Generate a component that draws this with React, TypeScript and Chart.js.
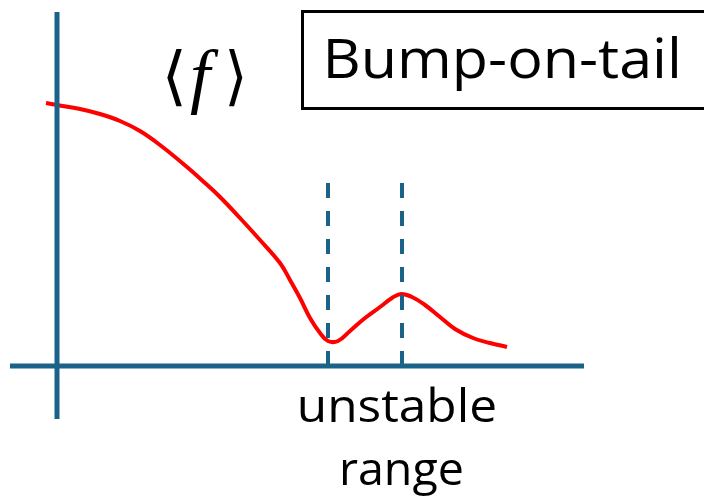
import React, { useEffect, useRef } from "react";
import { Chart, registerables } from "chart.js";

Chart.register(...registerables);

// Distribution curve <f>(v): velocity and value samples
const velocity = [-0.22, 0, 0.46, 0.86, 1.26, 1.66, 2.06, 2.6, 2.96, 3.26, 3.66, 4.06, 4.46, 4.66, 4.86, 5.06, 5.26, 5.42, 5.62, 5.86, 6.16, 6.46, 6.7, 6.88, 7.1, 7.36, 7.66, 7.96, 8.32, 8.66, 9.0];
const fValue = [5.26, 5.22, 5.14, 5.04, 4.9, 4.7, 4.42, 3.98, 3.66, 3.38, 2.96, 2.52, 2.06, 1.72, 1.36, 0.96, 0.66, 0.5, 0.5, 0.7, 0.96, 1.18, 1.36, 1.44, 1.38, 1.22, 0.98, 0.74, 0.56, 0.46, 0.38];

// Axes extents
const vAxisRange = [-0.94, 10.54];
const fAxisRange = [-1.06, 7.08];

// Unstable range boundaries (minimum and bump peak)
const unstableBounds = [5.42, 6.9];
const markerHeight = 3.66;

// Texts
const fLabel = ["⟨", "f", "⟩"];
const titleText = "Bump-on-tail";
const rangeLabel = ["unstable", "range"];

const AXIS = "#1b6289";

function drawBox(ctx: CanvasRenderingContext2D, text: string, font: string, l: number, t: number, r: number, b: number, uniform = false) {
  ctx.font = font;
  const m = ctx.measureText(text);
  const w = m.actualBoundingBoxLeft + m.actualBoundingBoxRight;
  const h = m.actualBoundingBoxAscent + m.actualBoundingBoxDescent;
  const sy = (b - t) / h;
  const sx = uniform ? sy : (r - l) / w;
  const x0 = uniform ? (l + r) / 2 - (w * sx) / 2 : l;
  ctx.save();
  ctx.translate(x0, t);
  ctx.scale(sx, sy);
  ctx.fillText(text, m.actualBoundingBoxLeft, m.actualBoundingBoxAscent);
  ctx.restore();
}

function drawFit(ctx: CanvasRenderingContext2D, text: string, font: string, l: number, r: number, baseline: number) {
  ctx.font = font;
  const m = ctx.measureText(text);
  const w = m.actualBoundingBoxLeft + m.actualBoundingBoxRight;
  const sx = (r - l) / w;
  ctx.save();
  ctx.translate(l, baseline);
  ctx.scale(sx, 1);
  ctx.fillText(text, m.actualBoundingBoxLeft, 0);
  ctx.restore();
}

const textPlugin = {
  id: "texts",
  afterDraw(chart: any) {
    const ctx = chart.ctx as CanvasRenderingContext2D;
    ctx.save();
    ctx.fillStyle = "#000";
    ctx.textBaseline = "alphabetic";
    ctx.textAlign = "left";
    // <f>
    drawBox(ctx, fLabel[0], "48px 'DejaVu Serif'", 167, 48, 182, 107);
    drawBox(ctx, fLabel[1], "italic 80px 'Liberation Serif'", 187, 48, 222, 115, true);
    drawBox(ctx, fLabel[2], "48px 'DejaVu Serif'", 228, 48, 243, 107);
    // box
    ctx.lineWidth = 3;
    ctx.strokeStyle = "#000";
    ctx.strokeRect(302.5, 11.5, 420, 97);
    drawFit(ctx, titleText, "54px 'Open Sans'", 328, 678, 78);
    // unstable range
    drawFit(ctx, rangeLabel[0], "46px 'Open Sans'", 300, 495, 422);
    drawFit(ctx, rangeLabel[1], "46px 'Open Sans'", 342, 462, 485);
    ctx.restore();
  },
};

export default function App() {
  const ref = useRef<HTMLCanvasElement | null>(null);
  useEffect(() => {
    if (!ref.current) return;
    const curve = velocity.map((v, i) => ({ x: v, y: fValue[i] }));
    const chart = new Chart(ref.current, {
      type: "line",
      data: {
        datasets: [
          {
            data: [{ x: vAxisRange[0], y: 0 }, { x: vAxisRange[1], y: 0 }],
            borderColor: AXIS,
            borderWidth: 5,
            pointRadius: 0,
          },
          {
            data: [{ x: 0, y: fAxisRange[0] }, { x: 0, y: fAxisRange[1] }],
            borderColor: AXIS,
            borderWidth: 5,
            pointRadius: 0,
          },
          ...unstableBounds.map((b) => ({
            data: [{ x: b, y: markerHeight }, { x: b, y: 0 }],
            borderColor: AXIS,
            borderWidth: 4,
            borderDash: [15, 13],
            pointRadius: 0,
          })),
          {
            data: curve,
            borderColor: "#ff0000",
            borderWidth: 4,
            pointRadius: 0,
            tension: 0.4,
          },
        ],
      },
      options: {
        animation: false,
        responsive: false,
        devicePixelRatio: 1,
        layout: { padding: 0 },
        plugins: { legend: { display: false }, tooltip: { enabled: false } },
        scales: {
          x: { type: "linear", min: -1.14, max: 12.94, display: false },
          y: { type: "linear", min: -2.62, max: 7.32, display: false },
        },
      },
      plugins: [textPlugin],
    });
    return () => chart.destroy();
  }, []);
  return (
    <div style={{ position: "absolute", left: 0, top: 0, width: 704, height: 497, background: "#fff" }}>
      <canvas ref={ref} width={704} height={497} />
    </div>
  );
}
